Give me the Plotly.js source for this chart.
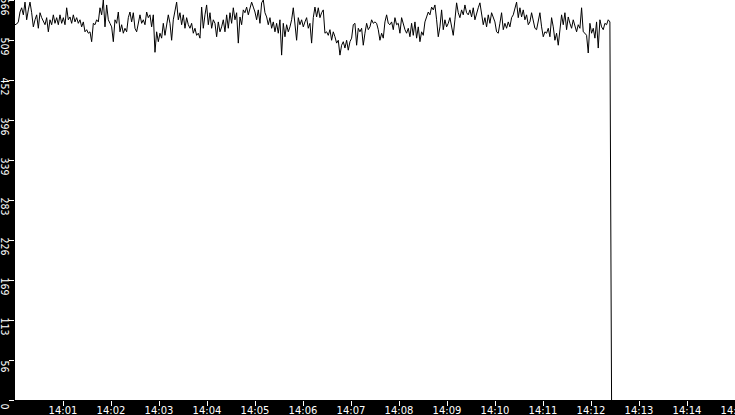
<!DOCTYPE html>
<html>
<head>
<meta charset="utf-8">
<script src="https://cdn.plot.ly/plotly-3.0.1.min.js"></script>
<style>
  html, body { margin: 0; padding: 0; background: #000; }
  #chart { width: 735px; height: 415px; }
</style>
</head>
<body>
<div id="chart"></div>
<script>
// samples logged every ~2.08 s starting at 14:00:00, last one is the drop to 0
const startTime = Date.UTC(2024, 0, 1, 14, 0, 0);
const sampleStepMs = 2083;

const values = [
    531, 532, 535, 549, 555, 545, 563, 538, 552, 563,
    548, 528, 538, 545, 526, 548, 541, 535, 531, 541,
    521, 538, 531, 545, 533, 541, 531, 545, 533, 541,
    531, 555, 538, 542, 533, 545, 535, 541, 533, 538,
    528, 535, 521, 524, 519, 521, 507, 533, 531, 538,
    535, 555, 545, 566, 528, 559, 538, 533, 528, 507,
    538, 533, 549, 521, 531, 519, 526, 521, 541, 549,
    535, 548,
    526, 521, 531, 545, 533, 538, 531, 549, 541, 545,
    528, 545, 492, 521, 507, 519, 512, 533, 516, 531,
    545, 533, 509, 538, 549, 563, 538, 548, 531, 545,
    526, 541, 531, 526, 533, 519, 526, 516, 519, 512,
    556, 526, 545, 559, 531, 548, 526, 538, 533, 514,
    535, 521, 528, 538, 521, 545, 526, 548, 533, 555,
    538, 548, 505, 542, 531, 552, 548, 556, 545, 555,
    563, 556,
    549, 538, 552, 533, 562, 566, 548, 542, 531, 541,
    526, 535, 521, 533, 519, 538, 488, 533, 514, 531,
    521, 528, 538, 555, 533, 509, 541, 531, 538, 528,
    535, 541, 526, 533, 505, 541, 556, 542, 555, 541,
    548, 552, 519, 521, 516, 524, 509, 521, 514, 505,
    509, 488, 502, 507, 498, 509, 495, 507, 512, 531,
    533, 502, 526, 521, 526, 502, 519, 533, 524, 528,
    538, 533,
    535, 533, 524, 509, 519, 512, 535, 545, 533, 531,
    535, 524, 541, 531, 533, 519, 541, 531, 524, 519,
    526, 514, 533, 516, 535, 512, 528, 507, 521, 516,
    535, 542, 549, 545, 556, 552, 559, 538, 514, 528,
    552, 524, 538, 528, 533, 541, 526, 516, 538, 562,
    548, 541, 552, 545, 559, 548, 545, 552, 542, 555,
    538, 549, 555, 562, 548, 531, 541, 528, 545, 533,
    548, 541,
    535, 521, 519, 533, 548, 524, 533, 526, 535, 528,
    541, 545, 556, 563, 541, 555, 542, 552, 538, 545,
    531, 535, 548, 538, 526, 524, 538, 548, 528, 514,
    521, 519, 526, 514, 541, 528, 509, 519, 502, 521,
    545, 531, 548, 524, 542, 533, 526, 538, 528, 521,
    531, 526, 555, 521, 519, 516, 491, 533, 519, 526,
    512, 535, 498, 538, 528, 524, 533, 531, 538, 535,
    0
];

const yTickVals = [0, 56.6, 113.2, 169.8, 226.4, 283, 339.6, 396.2, 452.8, 509.4, 566];
const yTickText = ['0', '56', '113', '169', '226', '283', '339', '396', '452', '509', '566'];
const xTickMinutes = [1, 2, 3, 4, 5, 6, 7, 8, 9, 10, 11, 12, 13, 14, 15];

const times = values.map((v, i) => startTime + i * sampleStepMs);
const xTickVals = xTickMinutes.map(m => startTime + m * 60000);
const xTickText = xTickMinutes.map(m => '14:' + String(m).padStart(2, '0'));

const trace = {
    x: times,
    y: values,
    type: 'scatter',
    mode: 'lines',
    line: { color: '#000000', width: 1 },
    hoverinfo: 'skip',
    showlegend: false
};

const layout = {
    width: 735,
    height: 415,
    margin: { l: 15, r: 0, t: 0, b: 15, pad: 0 },
    paper_bgcolor: '#000000',
    plot_bgcolor: '#ffffff',
    showlegend: false,
    xaxis: {
        type: 'date',
        range: [startTime, startTime + 15 * 60000],
        tickvals: xTickVals,
        ticktext: xTickText,
        ticks: 'outside',
        ticklen: 5,
        tickwidth: 1,
        tickcolor: '#ffffff',
        tickfont: { family: 'DejaVu Sans, sans-serif', size: 10, color: '#ffffff' },
        ticklabelstandoff: -4,
        ticklabeloverflow: 'allow',
        showgrid: false,
        zeroline: false,
        showline: false,
        automargin: false
    },
    yaxis: {
        range: [0, 566],
        tickvals: yTickVals,
        ticktext: yTickText,
        tickangle: 90,
        ticklabelshift: 8,
        ticklabelstandoff: -5,
        ticklabeloverflow: 'allow',
        ticks: 'outside',
        ticklen: 5,
        tickwidth: 1,
        tickcolor: '#ffffff',
        tickfont: { family: 'Liberation Sans Narrow, DejaVu Sans Condensed, sans-serif', size: 10.5, color: '#ffffff' },
        showgrid: false,
        zeroline: false,
        showline: false,
        automargin: false
    }
};

Plotly.newPlot('chart', [trace], layout, { displayModeBar: false, staticPlot: true });
</script>
</body>
</html>
